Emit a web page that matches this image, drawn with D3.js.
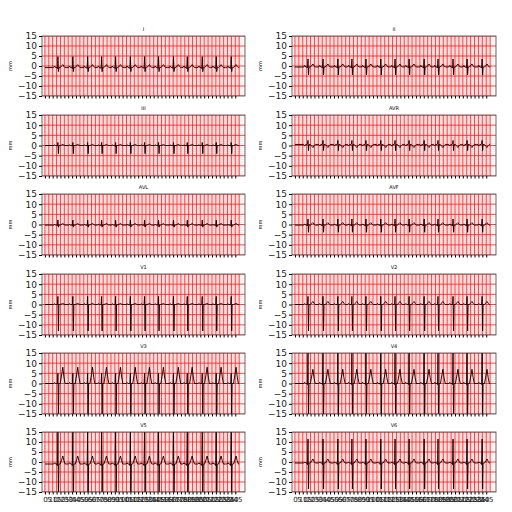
<!DOCTYPE html><html><head><meta charset="utf-8">
<script src="https://cdn.jsdelivr.net/npm/d3@7"></script>
<style>body{margin:0;background:#fff}</style></head><body>
<svg id="c" width="512" height="512"></svg>
<script>
const leads = ["I","II","III","AVR","AVL","AVF","V1","V2","V3","V4","V5","V6"];
const beatTimes = [0.67,1.44,2.2,2.92,3.64,4.4,5.13,5.85,6.62,7.33,8.1,8.82,9.59];
// per-lead amplitudes (mm): P, Q, R, S, T
const ampP = [0.8,0.8,0.3,-0.8,0.3,0.6,0.4,0.5,0.5,0.6,0.6,0.5];
const ampQ = [-0.5,-0.5,-0.3,0.3,-0.3,-0.4,0,0,0,-0.5,-0.8,-0.8];
const ampR = [5.5,4,1.5,2,2.5,3,4,4,5,18,17,12];
const ampS = [-2,-4,-4,-3,-1,-3.5,-13,-13,-16,-18,-17,-13];
const ampT = [1.5,1.5,0.5,-1.5,0.8,1.2,0.5,1.5,8,7,4,2];
const baseline = [-0.8,-0.5,0,0.5,-0.3,-0.3,0,0,0,0,-1,-0.5];
// beat template: [offset s, component, fraction]
const tmpl = [[-0.3,"B",0],[-0.22,"P",0],[-0.17,"P",1],[-0.12,"P",0],[-0.05,"B",0],[-0.025,"Q",1],[0,"R",1],[0.025,"S",1],[0.05,"B",0],[0.12,"B",0],[0.2,"T",0.6],[0.25,"T",1],[0.31,"T",0.4],[0.37,"B",0]];
const yTicks = [-15,-10,-5,0,5,10,15];
const xTickCount = 50;

const svg = d3.select("#c");
const cols = [[42,245],[292,496]];
const rows = [[36,96],[115,176],[194,255],[274,335],[353,414],[432,492]];
const tmax = 10.3;
leads.forEach((name,i)=>{
  const c = cols[i%2], r = rows[Math.floor(i/2)];
  const x = d3.scaleLinear().domain([-0.15,tmax]).range(c);
  const y = d3.scaleLinear().domain([-15,15]).range([r[1],r[0]]);
  const g = svg.append("g");
  const clipId="clip"+i;
  g.append("clipPath").attr("id",clipId).append("rect").attr("x",c[0]).attr("y",r[0]).attr("width",c[1]-c[0]).attr("height",r[1]-r[0]);
  const gg = g.append("g").attr("clip-path",`url(#${clipId})`);
  for(let t=0;t<=10.001;t+=0.04) gg.append("line").attr("x1",x(t)).attr("x2",x(t)).attr("y1",r[0]).attr("y2",r[1]).attr("stroke","#ffc4c4").attr("stroke-width",0.4);
  for(let v=-15;v<=15;v+=1) gg.append("line").attr("x1",c[0]).attr("x2",c[1]).attr("y1",y(v)).attr("y2",y(v)).attr("stroke","#ffc4c4").attr("stroke-width",0.4);
  for(let t=0;t<=10.001;t+=0.2) gg.append("line").attr("x1",x(t)).attr("x2",x(t)).attr("y1",r[0]).attr("y2",r[1]).attr("stroke","#f00").attr("stroke-width",0.7);
  for(let v=-15;v<=15;v+=5) gg.append("line").attr("x1",c[0]).attr("x2",c[1]).attr("y1",y(v)).attr("y2",y(v)).attr("stroke","#f00").attr("stroke-width",0.7);
  const amp = {P:ampP[i],Q:ampQ[i],R:ampR[i],S:ampS[i],T:ampT[i],B:0};
  const pts=[[0,baseline[i]]];
  beatTimes.forEach(bt=>tmpl.forEach(([dt,k,f])=>pts.push([bt+dt,baseline[i]+amp[k]*f])));
  pts.push([10,baseline[i]]);
  gg.append("path").datum(pts).attr("fill","none").attr("stroke","#000").attr("stroke-width",0.9)
    .attr("d",d3.line().x(d=>x(d[0])).y(d=>y(d[1])));
  g.append("rect").attr("x",c[0]).attr("y",r[0]).attr("width",c[1]-c[0]).attr("height",r[1]-r[0]).attr("fill","none").attr("stroke","#444").attr("stroke-width",0.8);
  const ya = d3.axisLeft(y).tickValues(yTicks).tickSize(3).tickPadding(2);
  g.append("g").attr("transform",`translate(${c[0]},0)`).call(ya).call(a=>{a.select(".domain").remove();a.selectAll("text").attr("font-size",9).attr("font-family","DejaVu Sans").attr("fill","#222");});
  const xt = d3.range(xTickCount).map(k=>k*0.2);
  const bottom = Math.floor(i/2)===5;
  const xa = d3.axisBottom(x).tickValues(xt).tickSize(2.5).tickFormat((d,k)=>bottom?String(k*5):"");
  g.append("g").attr("transform",`translate(0,${r[1]})`).call(xa).call(a=>{a.select(".domain").remove();a.selectAll("text").attr("font-size",7).attr("font-family","DejaVu Sans").attr("fill","#222");});
  g.append("text").attr("x",(c[0]+c[1])/2).attr("y",r[0]-5).attr("text-anchor","middle").attr("font-size",5).attr("font-family","DejaVu Sans").text(name);
  g.append("text").attr("transform",`translate(${c[0]-30},${(r[0]+r[1])/2}) rotate(-90)`).attr("text-anchor","middle").attr("font-size",5).attr("font-family","DejaVu Sans").text("mm");
});
</script></body></html>
